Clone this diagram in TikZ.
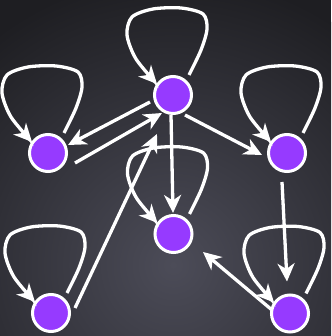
\documentclass[tikz,border=0pt]{standalone}
\usetikzlibrary{arrows.meta,calc}
\definecolor{nodepurple}{RGB}{150,58,255}
\definecolor{bgin}{RGB}{76,76,88}
\definecolor{bgout}{RGB}{30,30,34}
\begin{document}
\begin{tikzpicture}[x=1pt,y=1pt,
  vtx/.style={circle,fill=nodepurple,draw=white,line width=3pt,minimum size=37pt,inner sep=0pt},
  edge/.style={draw=white,line width=3.3pt,-{Stealth[length=18pt,width=17pt,inset=5.5pt]}},
  selfloop/.pic={\draw[edge] plot[smooth] coordinates {(16,20) (28,45) (34,66) (30,81) (8,87) (-20,86) (-41,78) (-46,60) (-37,36) (-16,11)};}
]
\useasboundingbox (0,0) rectangle (331,336);
\begin{scope}
  \clip (0,0) rectangle (331,336);
  \fill[bgout] (0,0) rectangle (331,336);
  \shade[inner color=bgin,outer color=bgout] (173,71) circle (290);
\end{scope}
% nodes
\node[vtx] (T)  at (173,241) {};
\node[vtx] (L)  at (48,183) {};
\node[vtx] (R)  at (287,183) {};
\node[vtx] (M)  at (173.5,102) {};
\node[vtx] (BL) at (51,23) {};
\node[vtx] (BR) at (290,22.5) {};
% self loops
\pic at (T) {selfloop};
\pic at (L) {selfloop};
\pic at (R) {selfloop};
\pic at (M) {selfloop};
\pic at (BL) {selfloop};
\pic at (BR) {selfloop};
% edges
\draw[edge] ($(T)+(-23,-7)$) -- ($(L)+(20,8)$);
\draw[edge] ($(L)+(27,-10)$) -- ($(T)+(-11,-18)$);
\draw[edge] ($(T)+(-2,-20)$) -- ($(M)+(-0.5,21)$);
\draw[edge] ($(BL)+(24,5)$) -- ($(T)+(-16,-39)$);
\draw[edge] ($(T)+(12,-20)$) -- ($(R)+(-25,-2)$);
\draw[edge] ($(R)+(-5,-29)$) -- ($(BR)+(-3,32)$);
\draw[edge] ($(BR)+(-18,3.5)$) -- ($(M)+(29.5,-18)$);
\end{tikzpicture}
\end{document}
